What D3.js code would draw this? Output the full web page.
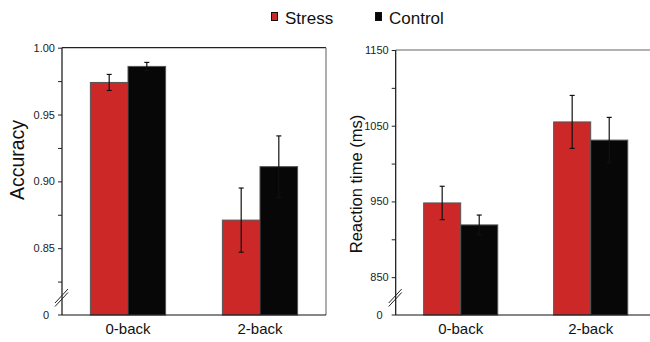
<!DOCTYPE html>
<html lang="en">
<head>
  <meta charset="UTF-8">
  <title>Accuracy and reaction time</title>
  <script src="https://d3js.org/d3.v7.min.js"></script>
  <style>
    body { margin: 0; background: #fff; }
    text { font-family: "Liberation Sans", Arial, sans-serif; }
  </style>
</head>
<body>
  <svg width="650" height="342"></svg>

  <script>
    // Data
    const conditions = ["0-back", "2-back"];
    const groups = ["Stress", "Control"];
    const groupColors = ["#cc2828", "#070707"];

    const accStress = [0.974, 0.871];
    const accControl = [0.986, 0.911];
    const accStressErr = [0.006, 0.024];
    const accControlErr = [0.003, 0.023];

    const rtStress = [948, 1055];
    const rtControl = [919, 1031];
    const rtStressErr = [22, 35];
    const rtControlErr = [13, 30];

    const accTicks = [0.85, 0.90, 0.95, 1.00];
    const accMinor = [0.825, 0.875, 0.925, 0.975];
    const rtTicks = [850, 950, 1050, 1150];
    const rtMinor = [900, 1000, 1100];

    const svg = d3.select("svg");

    // Legend
    const legend = svg.append("g");
    const legendX = [271, 375];
    groups.forEach((g, i) => {
      legend.append("rect")
        .attr("x", legendX[i] + 0.5).attr("y", 12.5)
        .attr("width", 6).attr("height", 8)
        .attr("fill", groupColors[i])
        .attr("stroke", "#111").attr("stroke-width", 1);
      legend.append("text")
        .attr("x", legendX[i] + 14).attr("y", 24)
        .attr("font-size", 17).attr("fill", "#111")
        .text(g);
    });

    function drawPanel(opts) {
      const x0 = d3.scaleBand().domain(conditions)
        .range([opts.left, opts.right])
        .paddingInner(0.43).paddingOuter(0.215);
      const x1 = d3.scaleBand().domain(groups).range([0, x0.bandwidth()]);
      const y = d3.scaleLinear().domain(opts.domain).range([315, opts.top]);

      const g = svg.append("g");

      // rows for bars
      const rows = [];
      conditions.forEach((c, i) => {
        rows.push({ c: c, g: "Stress", v: opts.stress[i], e: opts.stressErr[i], col: groupColors[0] });
        rows.push({ c: c, g: "Control", v: opts.control[i], e: opts.controlErr[i], col: groupColors[1] });
      });

      // frame top/right
      g.append("line")
        .attr("x1", opts.left).attr("x2", opts.right)
        .attr("y1", y(opts.domain[1])).attr("y2", y(opts.domain[1]))
        .attr("stroke", opts.topColor).attr("stroke-width", 1.2);
      g.append("line")
        .attr("x1", opts.right).attr("x2", opts.right)
        .attr("y1", y(opts.domain[1])).attr("y2", 315)
        .attr("stroke", "#777").attr("stroke-width", 1.2);

      // bars
      g.selectAll(".bar").data(rows).enter().append("rect")
        .attr("class", "bar")
        .attr("x", d => x0(d.c) + x1(d.g))
        .attr("y", d => y(d.v))
        .attr("width", x1.bandwidth())
        .attr("height", d => 315 - y(d.v))
        .attr("fill", d => d.col)
        .attr("stroke", "#555").attr("stroke-width", 1);

      // error bars
      const eb = g.selectAll(".err").data(rows).enter().append("g").attr("class", "err")
        .attr("stroke", "#111").attr("stroke-width", 1.2);
      eb.append("line")
        .attr("x1", d => x0(d.c) + x1(d.g) + x1.bandwidth() / 2)
        .attr("x2", d => x0(d.c) + x1(d.g) + x1.bandwidth() / 2)
        .attr("y1", d => y(d.v - d.e)).attr("y2", d => y(d.v + d.e));
      ["+", "-"].forEach(s => {
        eb.append("line")
          .attr("x1", d => x0(d.c) + x1(d.g) + x1.bandwidth() / 2 - 2.5)
          .attr("x2", d => x0(d.c) + x1(d.g) + x1.bandwidth() / 2 + 2.5)
          .attr("y1", d => y(s === "+" ? d.v + d.e : d.v - d.e))
          .attr("y2", d => y(s === "+" ? d.v + d.e : d.v - d.e));
      });

      // y axis
      const yAxis = d3.axisLeft(y).tickValues(opts.ticks)
        .tickFormat(opts.fmt).tickSize(4).tickPadding(3);
      const ya = g.append("g").attr("transform", `translate(${opts.left},0)`).call(yAxis);
      ya.select(".domain").attr("stroke", "#111").attr("stroke-width", 1.2)
        .attr("d", `M0,${y(opts.domain[1])}V315`);
      ya.selectAll(".tick line").attr("stroke", "#222");
      ya.selectAll(".tick text").attr("font-size", 11).attr("fill", "#222")
        .attr("font-family", "Liberation Sans, Arial, sans-serif");
      const yMinor = d3.axisLeft(y).tickValues(opts.minor).tickFormat("").tickSize(4);
      const ym = g.append("g").attr("transform", `translate(${opts.left},0)`).call(yMinor);
      ym.select(".domain").remove();
      ym.selectAll(".tick line").attr("stroke", "#222");

      // "0" label at the axis origin
      g.append("text")
        .attr("x", opts.left - 13).attr("y", 315).attr("dy", "0.35em")
        .attr("text-anchor", "end").attr("font-size", 11).attr("fill", "#222")
        .text("0");
      g.append("line")
        .attr("x1", opts.left - 4).attr("x2", opts.left)
        .attr("y1", 315).attr("y2", 315).attr("stroke", "#222");

      // axis break marks
      [0, 3.5].forEach(o => {
        g.append("line")
          .attr("x1", opts.left - 7).attr("y1", 303 + o)
          .attr("x2", opts.left + 6).attr("y2", 289 + o)
          .attr("stroke", "#222").attr("stroke-width", 1);
      });

      // x axis
      const xAxis = d3.axisBottom(x0).tickSize(0).tickPadding(8);
      const xa = g.append("g").attr("transform", "translate(0,315)").call(xAxis);
      xa.select(".domain").attr("stroke", "#111").attr("stroke-width", 1.2)
        .attr("d", `M${opts.left},0H${opts.right}`);
      xa.selectAll(".tick text").attr("font-size", 15).attr("fill", "#111")
        .attr("font-family", "Liberation Sans, Arial, sans-serif");

      // y title
      g.append("text")
        .attr("transform", `translate(${opts.titleX},${opts.titleY}) rotate(-90)`)
        .attr("text-anchor", "middle").attr("font-size", opts.titleSize).attr("fill", "#111")
        .text(opts.title);
    }

    drawPanel({
      left: 62, right: 326, top: 47.7, domain: [0.8, 1.0],
      stress: accStress, control: accControl,
      stressErr: accStressErr, controlErr: accControlErr,
      ticks: accTicks, minor: accMinor, fmt: d3.format(".2f"),
      topColor: "#222",
      title: "Accuracy", titleX: 24, titleY: 160, titleSize: 19.5
    });

    drawPanel({
      left: 395.7, right: 655.7, top: 50, domain: [800, 1150],
      stress: rtStress, control: rtControl,
      stressErr: rtStressErr, controlErr: rtControlErr,
      ticks: rtTicks, minor: rtMinor, fmt: d3.format("d"),
      topColor: "#666",
      title: "Reaction time (ms)", titleX: 362, titleY: 184, titleSize: 16.5
    });
  </script>
</body>
</html>
